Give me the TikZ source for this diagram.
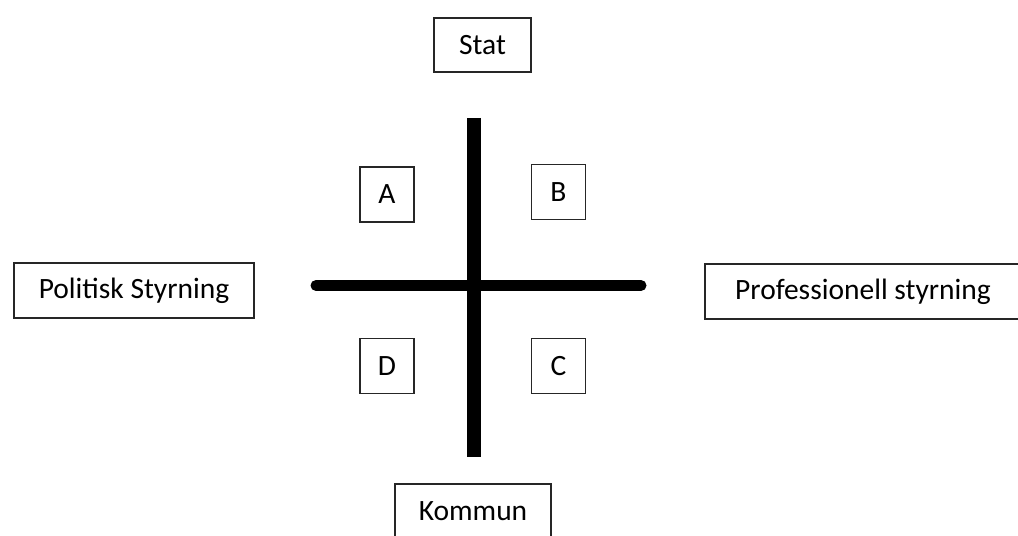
\documentclass[tikz,border=0pt]{standalone}
\usepackage{fontspec}
\setmainfont{Carlito}
\begin{document}
\begin{tikzpicture}[x=1bp,y=-1bp,
  labelbox/.style={draw=black!85,line width=1.8bp,inner sep=0pt,fill=white,
    font=\fontsize{29.6}{34}\selectfont},
  cellbox/.style={labelbox,minimum width=54bp,minimum height=55bp},
  axisv/.style={line width=14bp,line cap=butt},
  axish/.style={line width=11bp,line cap=round}]
  \useasboundingbox (0,0) rectangle (1018,536);
  \begin{scope}
    \clip (0,0) rectangle (1018,536);
    % end points of the two axes
    \coordinate (vtop) at (473.5,118);
    \coordinate (vbot) at (473.5,457);
    \coordinate (hleft) at (316,285.5);
    \coordinate (hright) at (641,285.5);
    \draw[axisv] (vtop) -- (vbot);
    \draw[axish] (hleft) -- (hright);
    % outer labels
    \node[labelbox,minimum width=97bp,minimum height=54bp] (stat) at (482.5,45) {Stat};
    \node[labelbox,minimum width=240bp,minimum height=55bp] (pol) at (134,290.5) {Politisk Styrning};
    \node[labelbox,minimum width=316bp,minimum height=55bp] (prof) at (863,291.5) {Professionell styrning};
    \node[labelbox,minimum width=156bp,minimum height=55bp] (kom) at (473,511.5) {Kommun};
    % quadrant cells
    \node[cellbox] (a) at (387,194.5) {A};
    \node[cellbox] (b) at (558.5,192) {B};
    \node[cellbox] (c) at (558.5,366) {C};
    \node[cellbox] (d) at (387,366) {D};
  \end{scope}
\end{tikzpicture}
\end{document}
